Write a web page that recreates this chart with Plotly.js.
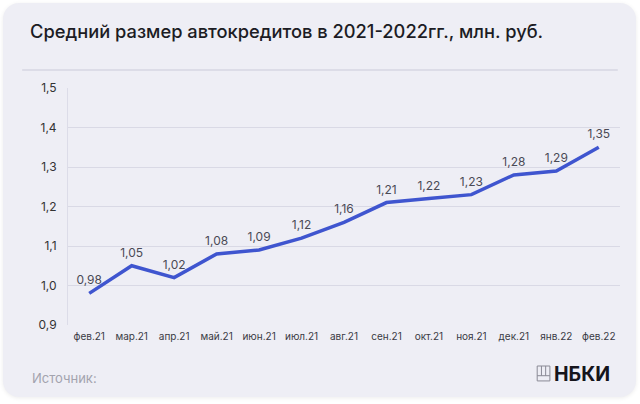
<!DOCTYPE html>
<html>
<head>
<meta charset="utf-8">
<script src="https://cdn.plot.ly/plotly-3.0.1.min.js"></script>
<style>
  html, body { margin: 0; padding: 0; background: #ffffff; }
  #card {
    position: absolute; left: 3px; top: 3px; width: 633px; height: 394px;
    background: #eeeef5; border-radius: 16px;
    box-shadow: 0 1px 4px rgba(0,0,0,0.08);
  }
  #chart { position: absolute; left: 0; top: 0; width: 640px; height: 404px; }
</style>
</head>
<body>
<div id="card"></div>
<div id="chart"></div>
<script>
// месяцы и средний размер автокредита, млн руб.
let months = ['фев.21', 'мар.21', 'апр.21', 'май.21', 'июн.21', 'июл.21', 'авг.21',
              'сен.21', 'окт.21', 'ноя.21', 'дек.21', 'янв.22', 'фев.22'];
let avgLoan = [0.98, 1.05, 1.02, 1.08, 1.09, 1.12, 1.16, 1.21, 1.22, 1.23, 1.28, 1.29, 1.35];
let yTicks = [0.9, 1.0, 1.1, 1.2, 1.3, 1.4, 1.5];

var trace = {
  x: months,
  y: avgLoan,
  type: 'scatter',
  mode: 'lines+markers+text',
  line: { color: '#3f55cf', width: 3.5 },
  // невидимые маркеры, чтобы подписи стояли чуть выше линии
  marker: { size: 8, opacity: 0 },
  texttemplate: '%{y:.2f}',
  textposition: 'top center',
  textfont: { family: 'Inter, sans-serif', size: 12, color: '#4a4a55' },
  cliponaxis: false,
  hoverinfo: 'skip'
};

var layout = {
  width: 640,
  height: 404,
  separators: ', ',
  paper_bgcolor: 'rgba(0,0,0,0)',
  plot_bgcolor: 'rgba(0,0,0,0)',
  margin: { l: 68, r: 20, t: 88, b: 79 },
  showlegend: false,
  font: { family: 'Inter, sans-serif', color: '#333333' },
  title: {
    text: 'Средний размер автокредитов в 2021-2022гг., млн. руб.',
    xref: 'container', yref: 'container',
    x: 30 / 640, xanchor: 'left',
    y: 1 - 32 / 404, yanchor: 'middle',
    font: { family: 'Inter, sans-serif', size: 18.3, weight: 500, color: '#1c1c24' }
  },
  xaxis: {
    type: 'category',
    range: [-0.5, 12.5],
    showgrid: false,
    showline: false,
    zeroline: false,
    ticks: '',
    ticklabelstandoff: 4,
    tickfont: { size: 10, color: '#3a3a44' }
  },
  yaxis: {
    range: [0.9, 1.5],
    tickvals: yTicks,
    tickformat: '.1f',
    showgrid: true,
    gridcolor: '#d9d9e5',
    gridwidth: 1,
    zeroline: false,
    showline: true,
    linecolor: '#dcdce8',
    ticks: '',
    ticklabelstandoff: 8,
    tickfont: { size: 12, color: '#333333' }
  },
  shapes: [
    // разделитель под заголовком
    { type: 'line', xref: 'paper', yref: 'paper', x0: -0.083, x1: 0.996, y0: 1.076, y1: 1.076,
      line: { color: '#d6d6e2', width: 1.5 } },
    // значок логотипа
    { type: 'rect', xref: 'paper', yref: 'paper', x0: 0.85, x1: 0.873, y0: -0.236, y1: -0.173,
      line: { color: '#8a8a95', width: 1 } },
    { type: 'line', xref: 'paper', yref: 'paper', x0: 0.8577, x1: 0.8577, y0: -0.173, y1: -0.214,
      line: { color: '#8a8a95', width: 1 } },
    { type: 'line', xref: 'paper', yref: 'paper', x0: 0.8653, x1: 0.8653, y0: -0.173, y1: -0.214,
      line: { color: '#8a8a95', width: 1 } },
    { type: 'line', xref: 'paper', yref: 'paper', x0: 0.85, x1: 0.873, y0: -0.214, y1: -0.214,
      line: { color: '#8a8a95', width: 1 } }
  ],
  annotations: [
    { text: 'Источник:', xref: 'paper', yref: 'paper', x: -0.069, y: -0.224,
      xanchor: 'left', yanchor: 'middle', showarrow: false,
      font: { size: 13, color: '#a3a3ae' } },
    { text: '<b>НБКИ</b>', xref: 'paper', yref: 'paper', x: 0.986, y: -0.205,
      xanchor: 'right', yanchor: 'middle', showarrow: false,
      font: { family: 'Inter, sans-serif', size: 19.5, color: '#15151c' } }
  ]
};

Plotly.newPlot('chart', [trace], layout, { displayModeBar: false, staticPlot: true });
</script>
</body>
</html>
